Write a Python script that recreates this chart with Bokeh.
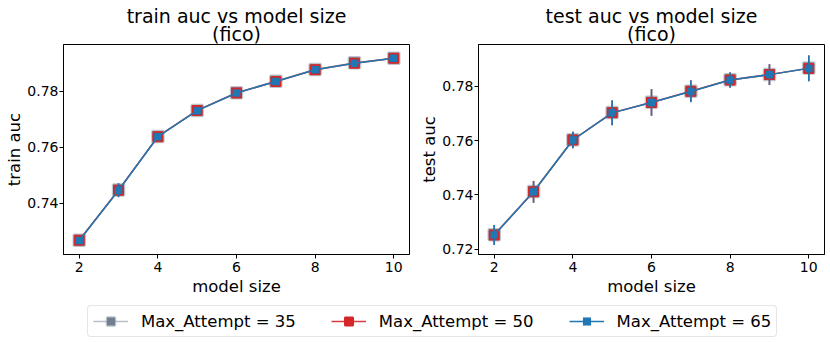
from bokeh.plotting import figure
from bokeh.models import FixedTicker, Legend, LegendItem, Range1d, ColumnDataSource
from bokeh.core.properties import value
from bokeh.layouts import row, column
from bokeh.embed import file_html
from bokeh.resources import INLINE
import numpy as np

# ---------------- data ----------------
model_size = [2, 3, 4, 5, 6, 7, 8, 9, 10]

series_names = ["Max_Attempt = 35", "Max_Attempt = 50", "Max_Attempt = 65"]

train_35 = [0.7268, 0.7447, 0.7638, 0.7731, 0.7794, 0.7835, 0.7877, 0.7901, 0.7917]
train_50 = [0.7268, 0.7446, 0.7637, 0.7731, 0.7793, 0.7834, 0.7876, 0.7899, 0.7917]
train_65 = [0.7267, 0.7446, 0.7637, 0.7730, 0.7793, 0.7834, 0.7876, 0.7899, 0.7917]
train_err_35 = [0.0006, 0.0025, 0.0008, 0.0006, 0.0006, 0.0006, 0.0005, 0.0005, 0.0005]
train_err_50 = [0.0006, 0.0024, 0.0008, 0.0006, 0.0006, 0.0006, 0.0005, 0.0005, 0.0005]
train_err_65 = [0.0006, 0.0025, 0.0008, 0.0006, 0.0006, 0.0006, 0.0005, 0.0005, 0.0005]

test_35 = [0.7253, 0.7412, 0.7603, 0.7703, 0.7741, 0.7782, 0.7824, 0.7843, 0.7867]
test_50 = [0.7252, 0.7411, 0.7602, 0.7702, 0.7740, 0.7782, 0.7823, 0.7843, 0.7866]
test_65 = [0.7252, 0.7411, 0.7602, 0.7702, 0.7740, 0.7781, 0.7823, 0.7843, 0.7866]
test_err_35 = [0.0037, 0.0040, 0.0030, 0.0046, 0.0049, 0.0040, 0.0028, 0.0038, 0.0047]
test_err_50 = [0.0037, 0.0040, 0.0030, 0.0046, 0.0049, 0.0040, 0.0028, 0.0038, 0.0047]
test_err_65 = [0.0037, 0.0040, 0.0030, 0.0046, 0.0049, 0.0040, 0.0028, 0.0038, 0.0047]

x_ticks = [2, 4, 6, 8, 10]
train_y_ticks = [0.74, 0.76, 0.78]
test_y_ticks = [0.72, 0.74, 0.76, 0.78]

# ---------------- style ----------------
FONT = "DejaVu Sans"
GRAY = "#708090"
RED = "#d62728"
BLUE = "#1f77b4"
BL, BB = 63, 43          # left / bottom borders of each panel
PW, PH = 415, 254        # panel width / height
BR = 6                   # right border
TH = 44                  # title strip height

styles = [
    dict(color=GRAY, size=11, fill_alpha=1.0, line_alpha=0.45, mline=2.5, alpha=0.5),
    dict(color=RED, size=9, fill_alpha=1.0, line_alpha=1.0, mline=2.0, alpha=0.9),
    dict(color=BLUE, size=7.5, fill_alpha=1.0, line_alpha=1.0, mline=0.0, alpha=1.0),
]


def make_title(title):
    t = figure(width=PW, height=TH, output_backend="svg", toolbar_location=None,
               x_range=Range1d(0, PW), y_range=Range1d(0, TH),
               min_border=0, x_axis_type=None, y_axis_type=None, outline_line_color=None)
    t.title = None
    t.xgrid.visible = False
    t.ygrid.visible = False
    cx = BL + (PW - BL - BR) / 2
    src = ColumnDataSource(dict(x=[cx, cx], y=[29, 10.5], t=[title, "(fico)"]))
    t.text("x", "y", text="t", source=src, text_align="center", text_baseline="alphabetic",
           text_font=value(FONT), text_font_size="19px", text_color="black")
    return t


def make_panel(ylabel, ys, errs, yr, yticks):
    p = figure(width=PW, height=PH, output_backend="svg", toolbar_location=None,
               x_range=Range1d(1.6, 10.4), y_range=Range1d(*yr),
               min_border_left=BL, min_border_right=BR,
               min_border_top=0, min_border_bottom=BB)
    p.title = None
    p.xgrid.visible = False
    p.ygrid.visible = False
    p.outline_line_color = "black"
    p.outline_line_width = 1
    for ax in (p.xaxis[0], p.yaxis[0]):
        ax.major_label_text_font = FONT
        ax.major_label_text_font_size = "14px"
        ax.major_label_text_color = "black"
        ax.axis_label_text_font = FONT
        ax.axis_label_text_font_size = "16.5px"
        ax.axis_label_text_font_style = "normal"
        ax.axis_label_text_color = "black"
        ax.major_tick_out = 4
        ax.major_tick_in = 0
        ax.minor_tick_out = 0
        ax.minor_tick_in = 0
        ax.major_tick_line_color = "black"
        ax.axis_line_color = "black"
    p.yaxis[0].major_label_standoff = 1
    p.yaxis[0].axis_label_standoff = 0
    p.xaxis[0].major_label_standoff = 3
    p.xaxis[0].axis_label_standoff = 2
    p.xaxis[0].ticker = FixedTicker(ticks=x_ticks)
    p.yaxis[0].ticker = FixedTicker(ticks=yticks)
    p.xaxis[0].axis_label = "model size"
    p.yaxis[0].axis_label = ylabel

    for y, e, st in zip(ys, errs, styles):
        y = np.array(y)
        e = np.array(e)
        src = ColumnDataSource(dict(x=model_size, y=y, lo=y - e, hi=y + e))
        p.line("x", "y", source=src, line_color=st["color"], line_width=1.5, line_alpha=st["alpha"])
        p.segment(x0="x", y0="lo", x1="x", y1="hi", source=src, line_color=st["color"],
                  line_width=1.5, line_alpha=st["alpha"])
        p.scatter("x", "y", source=src, marker="square", size=st["size"], fill_color=st["color"],
                  fill_alpha=st["fill_alpha"], line_color=st["color"], line_alpha=st["line_alpha"],
                  line_width=st["mline"] if st["mline"] > 0 else 0.1)
    return p


t1 = make_title("train auc vs model size")
t2 = make_title("test auc vs model size")
p1 = make_panel("train auc", [train_35, train_50, train_65],
                [train_err_35, train_err_50, train_err_65],
                (0.7217, 0.7966), train_y_ticks)
p2 = make_panel("test auc", [test_35, test_50, test_65],
                [test_err_35, test_err_50, test_err_65],
                (0.7180, 0.7954), test_y_ticks)

# ---------------- legend figure ----------------
leg = figure(width=2 * PW, height=45, output_backend="svg", toolbar_location=None,
             x_range=Range1d(0, 1), y_range=Range1d(0, 1),
             min_border=0, x_axis_type=None, y_axis_type=None, outline_line_color=None)
leg.title = None
leg.xgrid.visible = False
leg.ygrid.visible = False
items = []
for name, st in zip(series_names, styles):
    # placeholder sources outside the visible range: only used to draw legend glyphs
    dummy = ColumnDataSource(dict(x=[-10, -9], y=[-10, -10]))
    r_line = leg.line("x", "y", source=dummy, line_color=st["color"], line_width=1.5, line_alpha=st["alpha"])
    r_bar = leg.scatter("x", "y", source=dummy, marker="dash", angle=np.pi / 2, size=20,
                        line_color=st["color"], line_width=1.5, line_alpha=st["alpha"])
    r_sq = leg.scatter("x", "y", source=dummy, marker="square", size=st["size"], fill_color=st["color"],
                       fill_alpha=st["fill_alpha"], line_color=st["color"], line_alpha=st["line_alpha"],
                       line_width=st["mline"] if st["mline"] > 0 else 0.1)
    items.append(LegendItem(label=name, renderers=[r_line, r_bar, r_sq]))

legend = Legend(items=items, orientation="horizontal", location=(87, 6),
                glyph_width=35, glyph_height=20, label_standoff=13, spacing=35,
                padding=5, margin=0,
                label_text_font=FONT, label_text_font_size="16.5px", label_text_color="black",
                border_line_color="#cccccc", border_line_width=1, border_radius=4,
                background_fill_color="white", background_fill_alpha=1.0)
leg.add_layout(legend)

layout = column(row(t1, t2, spacing=0), row(p1, p2, spacing=0), leg, spacing=0)

open("out.html", "w").write(file_html(layout, INLINE))
